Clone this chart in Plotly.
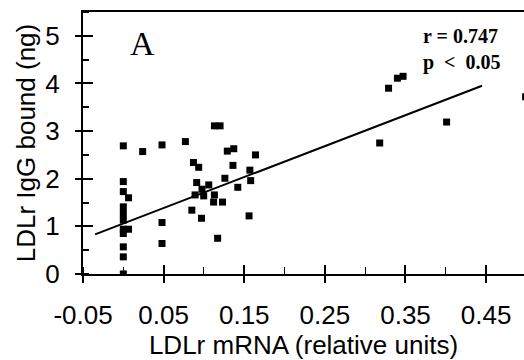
import plotly.graph_objects as go

# Data (LDLr mRNA vs LDLr IgG bound)
mrna = [
    0.0, 0.0, 0.0, 0.0065, 0.0, 0.0, 0.0, 0.0, 0.0065, 0.0, 0.0, 0.0, 0.0,
    0.024, 0.048, 0.048, 0.048,
    0.077, 0.087, 0.0935, 0.091, 0.106, 0.0976, 0.089, 0.0997, 0.113, 0.112,
    0.085, 0.097, 0.117, 0.113, 0.120, 0.129, 0.137, 0.136, 0.126, 0.123,
    0.142, 0.157, 0.158, 0.156, 0.164,
    0.318, 0.329, 0.340, 0.347, 0.401, 0.499,
]
igg_bound = [
    2.69, 1.94, 1.73, 1.60, 1.41, 1.27, 1.13, 0.94, 0.94, 0.85, 0.57, 0.36, 0.0,
    2.57, 2.71, 1.08, 0.64,
    2.78, 2.34, 2.24, 1.92, 1.87, 1.78, 1.66, 1.64, 1.66, 1.51,
    1.34, 1.17, 0.75, 3.11, 3.11, 2.58, 2.63, 2.28, 2.01, 1.51,
    1.82, 2.18, 1.96, 1.22, 2.50,
    2.75, 3.90, 4.11, 4.15, 3.19, 3.72,
]

# Regression line drawn in the figure
fit_slope = 6.5
fit_intercept = 1.06
fit_x = [-0.035, 0.445]
fit_y = [fit_intercept + fit_slope * v for v in fit_x]

x_tick_vals = [-0.05, 0.05, 0.15, 0.25, 0.35, 0.45]
x_tick_text = ["-0.05", "0.05", "0.15", "0.25", "0.35", "0.45"]
y_tick_vals = [0, 1, 2, 3, 4, 5]
y_tick_text = ["0", "1", "2", "3", "4", "5"]

x_range = [-0.05, 0.497]
y_range = [0, 5.5]

sans = "Liberation Sans, Arial, sans-serif"
serif = "Liberation Serif, Times New Roman, serif"

fig = go.Figure()
fig.add_trace(go.Scatter(
    x=fit_x, y=fit_y, mode="lines",
    line=dict(color="black", width=2), showlegend=False, hoverinfo="skip",
))
fig.add_trace(go.Scatter(
    x=mrna, y=igg_bound, mode="markers",
    marker=dict(symbol="square", size=7, color="black", line=dict(width=0)),
    showlegend=False,
))
# invisible trace on overlay axes to activate them
fig.add_trace(go.Scatter(x=[None], y=[None], xaxis="x2", yaxis="y2",
                         showlegend=False, hoverinfo="skip"))

fig.update_layout(
    width=524, height=360,
    margin=dict(l=83, r=0, t=12, b=86),
    paper_bgcolor="white", plot_bgcolor="white",
    font=dict(family=sans, size=26, color="black"),
    xaxis=dict(
        range=x_range, showgrid=False, zeroline=False,
        showline=True, linecolor="black", linewidth=2, mirror=True,
        tickmode="array", tickvals=x_tick_vals, ticktext=x_tick_text,
        ticks="outside", ticklen=7, tickwidth=1.5, tickcolor="black",
        minor=dict(tickmode="linear", tick0=-0.05, dtick=0.05, ticks="inside",
                   ticklen=7, tickwidth=1, tickcolor="black", showgrid=False),
        ticklabelstandoff=10,
        tickfont=dict(family=sans, size=26),
        title=dict(text="LDLr mRNA (relative units)", font=dict(family=sans, size=26),
                   standoff=3),
    ),
    yaxis=dict(
        range=y_range, showgrid=False, zeroline=False,
        showline=True, linecolor="black", linewidth=2,
        tickmode="array", tickvals=y_tick_vals, ticktext=y_tick_text,
        ticks="outside", ticklen=6, tickwidth=2, tickcolor="black",
        minor=dict(tickmode="linear", tick0=0, dtick=0.5, ticks="inside",
                   ticklen=6, tickwidth=1.5, tickcolor="black", showgrid=False),
        ticklabelstandoff=10,
        tickfont=dict(family=sans, size=26),
        title=dict(text="LDLr IgG bound (ng)", font=dict(family=sans, size=26),
                   standoff=2),
    ),
    xaxis2=dict(
        overlaying="x", range=x_range, showgrid=False, zeroline=False,
        showline=False, showticklabels=False,
        tickmode="array", tickvals=x_tick_vals,
        ticks="inside", ticklen=9, tickwidth=1.5, tickcolor="black",
        side="bottom", anchor="y",
    ),
    yaxis2=dict(
        overlaying="y", range=y_range, showgrid=False, zeroline=False,
        showline=False, showticklabels=False,
        tickmode="array", tickvals=y_tick_vals,
        ticks="inside", ticklen=10, tickwidth=2, tickcolor="black",
        side="left", anchor="x",
    ),
    annotations=[
        dict(text="A", xref="paper", yref="paper", x=0.134, y=0.878,
             showarrow=False, xanchor="center", yanchor="middle",
             font=dict(family=serif, size=34, color="black")),
        dict(text="<b>r = 0.747</b><br><b>p  <  0.05</b>", xref="paper", yref="paper",
             x=0.766, y=0.857, showarrow=False, xanchor="left", yanchor="middle",
             align="left", font=dict(family=serif, size=20, color="black")),
    ],
)

fig.write_html("out.html")
